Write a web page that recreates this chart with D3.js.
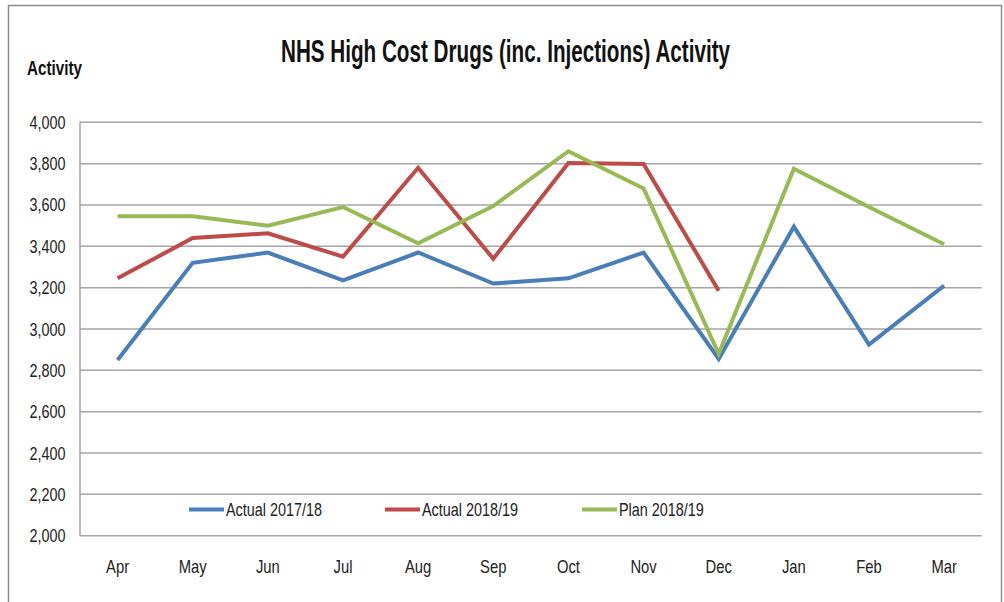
<!DOCTYPE html>
<html><head><meta charset="utf-8">
<script src="https://cdn.jsdelivr.net/npm/d3@7"></script>
<style>
html,body{margin:0;padding:0;background:#fff;}
svg{display:block;font-family:"Liberation Sans",Arial,sans-serif;}
</style></head>
<body>
<script>
const months = ["Apr","May","Jun","Jul","Aug","Sep","Oct","Nov","Dec","Jan","Feb","Mar"];
const actual1718 = [2850,3320,3370,3235,3370,3220,3245,3370,2855,3495,2925,3210];
const actual1819 = [3245,3440,3463,3350,3780,3340,3803,3798,3185,null,null,null];
const plan1819  = [3545,3545,3500,3590,3415,3595,3860,3680,2880,3775,3590,3410];
const seriesNames = ["Actual 2017/18","Actual 2018/19","Plan 2018/19"];
const seriesColors = ["#4a7ebb","#be4b48","#98b954"];
const yTicks = [2000,2200,2400,2600,2800,3000,3200,3400,3600,3800,4000];
const titleText = "NHS High Cost Drugs (inc. Injections) Activity";
const yAxisTitle = "Activity";

const W = 1004, H = 602;
const m = {left:80, right:22.3, top:122.3, bottom:66.3};
const SX = 0.8; // horizontal condensing to mimic narrow font
const svg = d3.select("body").append("svg").attr("width",W).attr("height",H);

// outer border
svg.append("rect").attr("x",8.5).attr("y",5.5).attr("width",993).attr("height",H)
  .attr("fill","none").attr("stroke","#8c8c8c").attr("stroke-width",1.5);

const x = d3.scaleBand().domain(months).range([m.left, W-m.right]).padding(0);
const y = d3.scaleLinear().domain([2000,4000]).range([H-m.bottom, m.top]);

// gridlines
svg.append("g").selectAll("line").data(yTicks).join("line")
  .attr("x1",m.left).attr("x2",W-m.right)
  .attr("y1",d=>y(d)).attr("y2",d=>y(d))
  .attr("stroke","#a6a6a6").attr("stroke-width",1.5);
// left axis line
svg.append("line").attr("x1",m.left).attr("x2",m.left).attr("y1",y(4000)).attr("y2",y(2000))
  .attr("stroke","#a6a6a6").attr("stroke-width",1.5);

// y tick labels
const fmt = d3.format(",");
svg.append("g").selectAll("text").data(yTicks).join("text")
  .attr("transform",d=>`translate(65.5,${y(d)+6.5}) scale(${SX},1)`)
  .attr("text-anchor","end")
  .attr("font-size",18).attr("fill","#222").text(d=>fmt(d));

// x tick labels
svg.append("g").selectAll("text").data(months).join("text")
  .attr("transform",d=>`translate(${x(d)+x.bandwidth()/2},573) scale(${SX},1)`)
  .attr("text-anchor","middle")
  .attr("font-size",18.5).attr("fill","#222").text(d=>d);

// lines
const all = [actual1718, actual1819, plan1819];
const line = d3.line().defined(d=>d.v!=null)
  .x(d=>x(d.m)+x.bandwidth()/2).y(d=>y(d.v));
all.forEach((arr,i)=>{
  svg.append("path").datum(arr.map((v,j)=>({m:months[j],v})))
    .attr("d",line).attr("fill","none").attr("stroke",seriesColors[i])
    .attr("stroke-width",4).attr("stroke-linejoin","miter");
});

// legend
const legX = [189,385,582];
seriesNames.forEach((n,i)=>{
  svg.append("line").attr("x1",legX[i]).attr("x2",legX[i]+35).attr("y1",509.5).attr("y2",509.5)
    .attr("stroke",seriesColors[i]).attr("stroke-width",4);
  svg.append("text").attr("transform",`translate(${legX[i]+37},516) scale(${SX},1)`)
    .attr("font-size",18).attr("fill","#222").text(n);
});

// title
svg.append("text").attr("x",505.5).attr("y",62).attr("text-anchor","middle")
  .attr("font-size",31).attr("font-weight","bold").attr("fill","#111")
  .attr("textLength",449).attr("lengthAdjust","spacingAndGlyphs").text(titleText);
svg.append("text").attr("x",27).attr("y",75)
  .attr("font-size",21).attr("font-weight","bold").attr("fill","#111")
  .attr("textLength",55).attr("lengthAdjust","spacingAndGlyphs").text(yAxisTitle);
</script>
</body></html>
